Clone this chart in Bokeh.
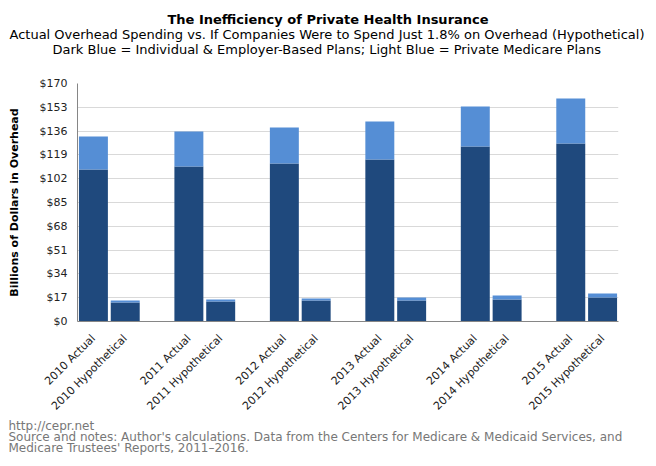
from bokeh.plotting import figure
from bokeh.models import ColumnDataSource, Range1d, FixedTicker, NumeralTickFormatter, Title
from bokeh.embed import file_html
from bokeh.resources import INLINE
import math

years = ["2010", "2011", "2012", "2013", "2014", "2015"]
actual_employer = [108.6, 110.7, 112.9, 115.7, 125.0, 127.1]
actual_medicare = [23.5, 25.0, 25.7, 27.2, 28.6, 32.2]
hypo_employer = [13.6, 14.3, 15.0, 15.0, 15.7, 17.1]
hypo_medicare = [1.4, 1.4, 1.4, 2.1, 2.9, 2.9]
y_ticks = [0, 17, 34, 51, 68, 85, 102, 119, 136, 153, 170]

DARK = "#1f497d"
LIGHT = "#558ed5"
FONT = "DejaVu Sans"

xs, names, emp, med = [], [], [], []
for i, yr in enumerate(years):
    xs += [3 * i, 3 * i + 1]
    names += [yr + " Actual", yr + " Hypothetical"]
    emp += [actual_employer[i], hypo_employer[i]]
    med += [actual_medicare[i], hypo_medicare[i]]

src = ColumnDataSource(dict(x=xs, name=names, employer=emp, medicare=med))

p = figure(frame_width=541, frame_height=238, output_backend="svg",
           toolbar_location=None, x_range=Range1d(-0.5, 16.5),
           y_range=Range1d(0, 170), title=None,
           min_border_left=77, min_border_top=83, min_border_right=38,
           min_border_bottom=145)
p.outline_line_color = None

p.vbar_stack(["employer", "medicare"], x="x", width=0.91, source=src,
             color=[DARK, LIGHT], line_color=None)

p.xgrid.grid_line_color = None
p.ygrid.grid_line_color = "#d9d9d9"
p.ygrid.grid_line_width = 1

yax = p.yaxis[0]
yax.ticker = FixedTicker(ticks=y_ticks)
yax.formatter = NumeralTickFormatter(format="$0")
yax.major_tick_line_color = None
yax.minor_tick_line_color = None
yax.axis_line_color = "#868686"
yax.major_label_text_font = FONT
yax.major_label_text_font_size = "11px"
yax.major_label_text_color = "#222222"
yax.major_label_standoff = 4
yax.axis_label = "Billions of Dollars in Overhead"
yax.axis_label_text_font = FONT
yax.axis_label_text_font_size = "11px"
yax.axis_label_text_font_style = "bold"
yax.axis_label_text_color = "#000000"
yax.axis_label_standoff = 16

xax = p.xaxis[0]
xax.ticker = FixedTicker(ticks=xs)
xax.major_label_overrides = {x: n for x, n in zip(xs, names)}
xax.major_label_orientation = math.pi / 4
xax.major_tick_line_color = None
xax.minor_tick_line_color = None
xax.axis_line_color = "#868686"
xax.major_label_text_font = FONT
xax.major_label_text_font_size = "11px"
xax.major_label_text_color = "#222222"
xax.major_label_standoff = 9

def add_title(text, side, offset, size, style="normal", color="#000000",
              standoff=0, line_height=1.0):
    p.add_layout(Title(text=text, align="left", offset=offset, text_font=FONT,
                       text_font_size=size, text_font_style=style,
                       text_color=color, standoff=standoff,
                       text_line_height=line_height), side)

# above: added from the frame outward (first one is a spacer)
add_title(" ", "above", 0, "1px", standoff=25)
add_title("Dark Blue = Individual & Employer-Based Plans; Light Blue = Private Medicare Plans",
          "above", -25, "13px", standoff=-2)
add_title("Actual Overhead Spending vs. If Companies Were to Spend Just 1.8% on Overhead (Hypothetical)",
          "above", -68, "13px", standoff=-2)
add_title("The Inefficiency of Private Health Insurance", "above", 90, "13px", "bold", standoff=-2)

# footer below the x axis
footer = ("http://cepr.net\n"
          "Source and notes: Author's calculations. Data from the Centers for Medicare & Medicaid Services, and\n"
          "Medicare Trustees' Reports, 2011\u20132016.")
add_title(footer, "below", -69, "12px", color="#777777", standoff=-7, line_height=0.78)

open("out.html", "w").write(file_html(p, INLINE))
